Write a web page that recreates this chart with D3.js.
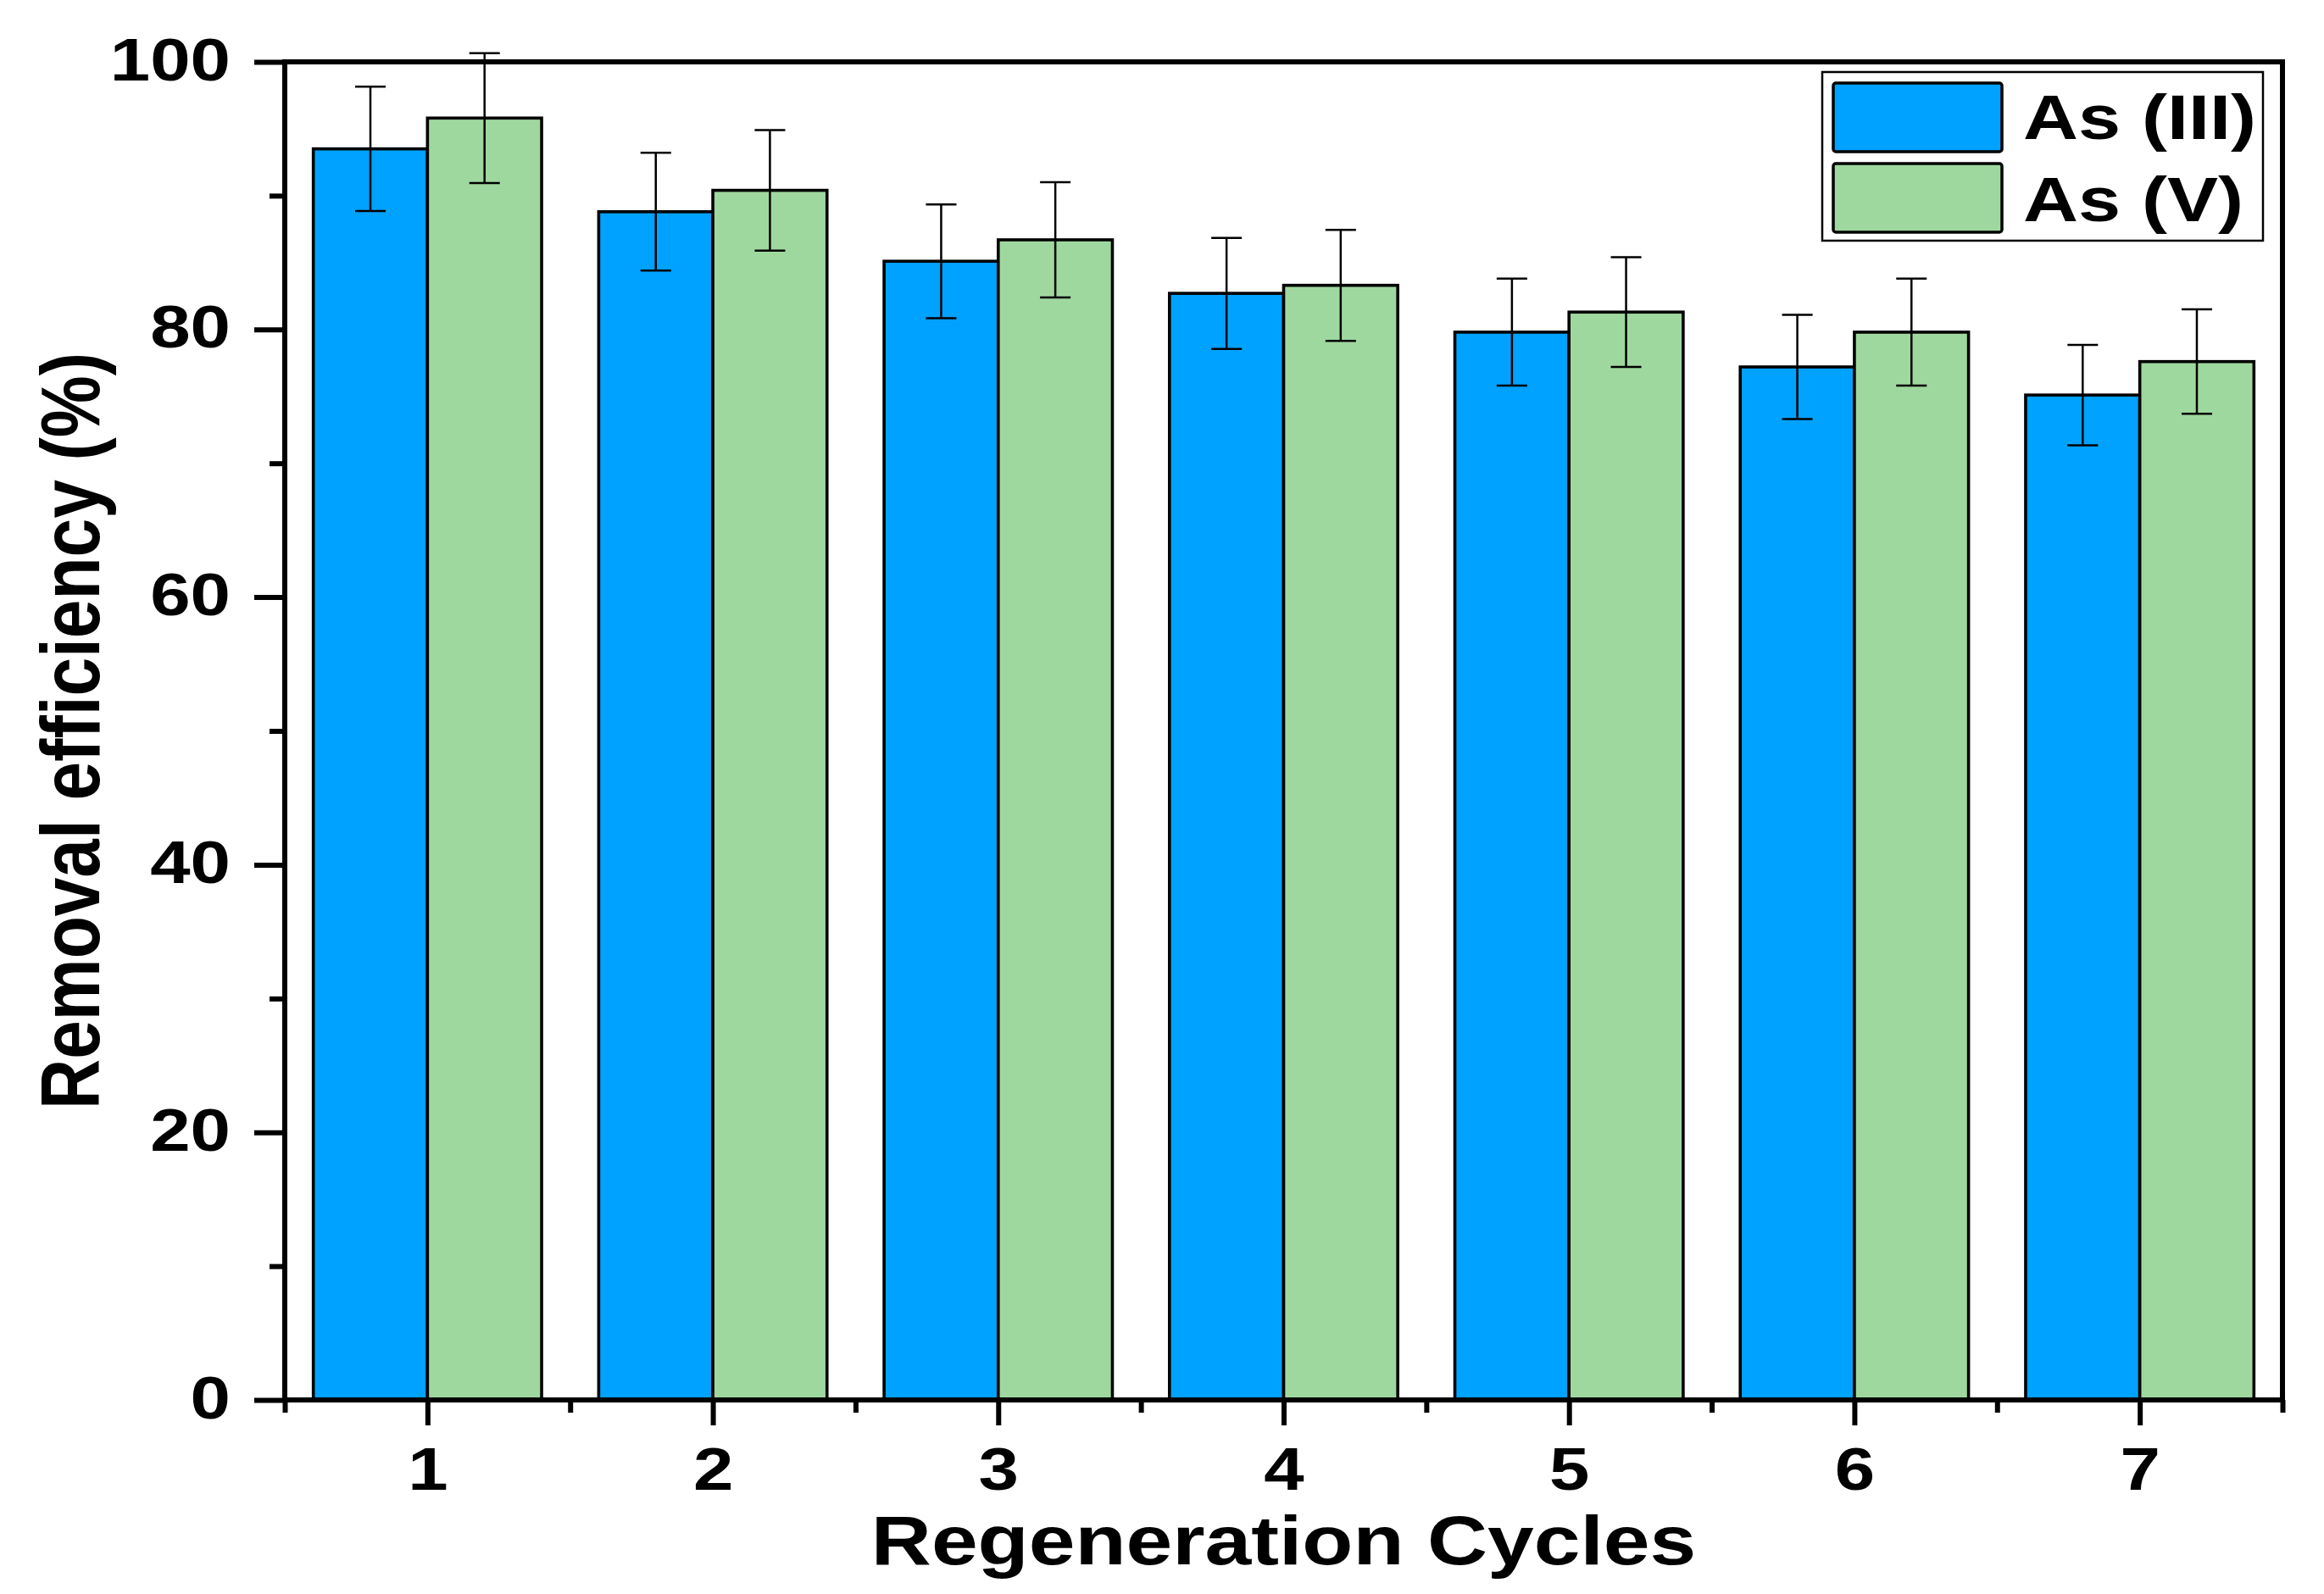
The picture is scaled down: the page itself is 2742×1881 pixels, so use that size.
<!DOCTYPE html>
<html>
<head>
<meta charset="utf-8">
<script src="https://cdn.jsdelivr.net/npm/d3@7"></script>
<style>
  html, body { margin: 0; padding: 0; background: #fff; }
  svg { display: block; }
  text { font-family: "Liberation Sans", Arial, sans-serif; font-weight: bold; fill: #000; }
</style>
</head>
<body>
<svg id="chart" width="2742" height="1881"></svg>
<script>
// ---- data ----
const cycles = [1, 2, 3, 4, 5, 6, 7];
const seriesNames = ["As (III)", "As (V)"];
const as3Values = [93.5, 88.8, 85.1, 82.7, 79.8, 77.2, 75.1];
const as3Errors = [4.65, 4.4, 4.25, 4.15, 4.0, 3.9, 3.75];
const as5Values = [95.8, 90.4, 86.7, 83.3, 81.3, 79.8, 77.6];
const as5Errors = [4.85, 4.5, 4.3, 4.15, 4.1, 4.0, 3.9];
const yTicks = [0, 20, 40, 60, 80, 100];
const yMinorTicks = [10, 30, 50, 70, 90];
const xMinorTicks = [0.5, 1.5, 2.5, 3.5, 4.5, 5.5, 6.5, 7.5];
const colors = ["#00A2FF", "#9FD89E"];

// ---- layout ----
const L = 336, R = 2693, T = 73, B = 1652;
const SX = 1.2; // horizontal stretch of the original figure
const svg = d3.select("#chart");

const x = d3.scaleLinear().domain([0.5, 7.5]).range([L, R]);
const y = d3.scaleLinear().domain([0, 100]).range([B, T]);
const barW = 0.4, capW = 0.107;

const series = [
  { name: seriesNames[0], values: as3Values, errors: as3Errors, color: colors[0], off: -barW },
  { name: seriesNames[1], values: as5Values, errors: as5Errors, color: colors[1], off: 0 }
];

// bars
series.forEach(s => {
  svg.append("g").selectAll("rect").data(cycles).join("rect")
    .attr("x", (c) => x(c + s.off))
    .attr("width", () => x(barW) - x(0))
    .attr("y", (c, i) => y(s.values[i]))
    .attr("height", (c, i) => y(0) - y(s.values[i]))
    .attr("fill", s.color)
    .attr("stroke", "#000")
    .attr("stroke-width", 3.6);
});

// error bars
series.forEach(s => {
  const g = svg.append("g").attr("stroke", "#000").attr("stroke-width", 2.5);
  cycles.forEach((c, i) => {
    const cx = x(c + s.off + barW / 2);
    const hi = y(s.values[i] + s.errors[i]);
    const lo = y(s.values[i] - s.errors[i]);
    const hw = (x(capW) - x(0)) / 2;
    g.append("line").attr("x1", cx).attr("x2", cx).attr("y1", hi).attr("y2", lo);
    g.append("line").attr("x1", cx - hw).attr("x2", cx + hw).attr("y1", hi).attr("y2", hi);
    g.append("line").attr("x1", cx - hw).attr("x2", cx + hw).attr("y1", lo).attr("y2", lo);
  });
});

// x axis
const xMinor = svg.append("g").attr("transform", `translate(0,${B})`)
  .call(d3.axisBottom(x).tickValues(xMinorTicks).tickSize(15).tickSizeOuter(0).tickFormat(""));
const xMajor = svg.append("g").attr("transform", `translate(0,${B})`)
  .call(d3.axisBottom(x).tickValues(cycles).tickSize(30).tickSizeOuter(0).tickFormat(d3.format("d")));
xMajor.selectAll(".tick text")
  .attr("y", null).attr("dy", null)
  .attr("transform", `translate(0,106) scale(${SX},1)`)
  .attr("text-anchor", "middle")
  .style("font-size", "71px");

// y axis
const yMinor = svg.append("g").attr("transform", `translate(${L},0)`)
  .call(d3.axisLeft(y).tickValues(yMinorTicks).tickSize(18).tickSizeOuter(0).tickFormat(""));
const yMajor = svg.append("g").attr("transform", `translate(${L},0)`)
  .call(d3.axisLeft(y).tickValues(yTicks).tickSize(36).tickSizeOuter(0).tickFormat(d3.format("d")));
yMajor.selectAll(".tick text")
  .attr("x", null).attr("dy", null)
  .attr("transform", `translate(-64,21) scale(${SX},1)`)
  .attr("text-anchor", "end")
  .style("font-size", "71px");

[xMinor, xMajor, yMinor, yMajor].forEach(a => {
  a.selectAll(".domain").remove();
  a.selectAll(".tick line").attr("stroke", "#000").attr("stroke-width", 6);
  a.attr("font-family", null).attr("font-size", null);
});

// frame
svg.append("path")
  .attr("d", `M${L},${B} L${L},${T} L${R},${T} L${R},${B} Z`)
  .attr("fill", "none").attr("stroke", "#000").attr("stroke-width", 6)
  .attr("stroke-linejoin", "miter");

// axis titles
svg.append("text")
  .attr("transform", `translate(${(L + R) / 2},1846) scale(${SX},1)`)
  .attr("text-anchor", "middle")
  .style("font-size", "82px")
  .text("Regeneration Cycles");
svg.append("text")
  .attr("transform", `translate(117,${(T + B) / 2}) scale(${SX},1) rotate(-90)`)
  .attr("text-anchor", "middle")
  .style("font-size", "82px")
  .text("Removal efficiency (%)");

// legend
const lg = svg.append("g");
lg.append("rect").attr("x", 2150).attr("y", 85).attr("width", 520).attr("height", 199)
  .attr("fill", "#fff").attr("stroke", "#000").attr("stroke-width", 2.5);
series.forEach((s, i) => {
  const top = 98 + i * 95;
  lg.append("rect").attr("x", 2163).attr("y", top).attr("width", 199).attr("height", 81)
    .attr("rx", 3).attr("fill", s.color).attr("stroke", "#000").attr("stroke-width", 3.5);
  lg.append("text")
    .attr("transform", `translate(2387,${164 + i * 97}) scale(${SX},1)`)
    .style("font-size", "75px")
    .text(s.name);
});
</script>
</body>
</html>
